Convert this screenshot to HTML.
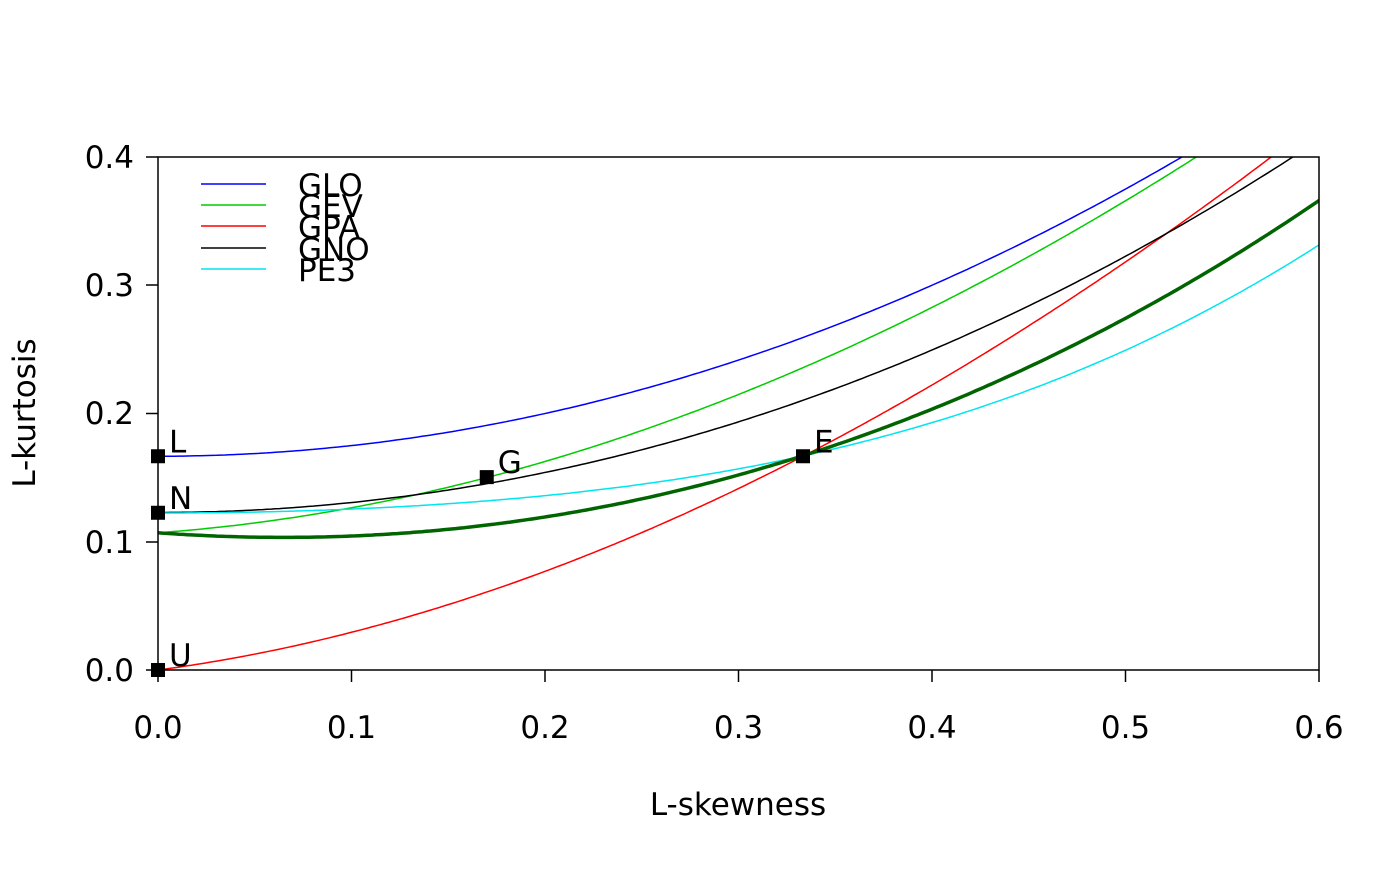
<!DOCTYPE html>
<html><head><meta charset="utf-8"><style>
html,body{margin:0;padding:0;background:#fff;}
svg text{font-family:"DejaVu Sans","Liberation Sans",sans-serif;font-size:31px;fill:#000;}
</style></head><body>
<svg id="s" width="1400" height="866" xmlns="http://www.w3.org/2000/svg">
<defs><clipPath id="c"><rect x="158" y="157" width="1161" height="513"/></clipPath></defs>
<g id="curves" clip-path="url(#c)"></g>
<rect x="158" y="157" width="1161" height="513" fill="none" stroke="#000" stroke-width="1.5"/>
<g stroke="#000" stroke-width="1.5">
<line x1="158" y1="670" x2="158" y2="682"/><line x1="351.5" y1="670" x2="351.5" y2="682"/>
<line x1="545" y1="670" x2="545" y2="682"/><line x1="738.5" y1="670" x2="738.5" y2="682"/>
<line x1="932" y1="670" x2="932" y2="682"/><line x1="1125.5" y1="670" x2="1125.5" y2="682"/>
<line x1="1319" y1="670" x2="1319" y2="682"/>
<line x1="146" y1="670" x2="158" y2="670"/><line x1="146" y1="542" x2="158" y2="542"/>
<line x1="146" y1="413.5" x2="158" y2="413.5"/><line x1="146" y1="285" x2="158" y2="285"/>
<line x1="146" y1="157" x2="158" y2="157"/>
</g>
<g text-anchor="middle">
<text x="158" y="738">0.0</text><text x="351.5" y="738">0.1</text><text x="545" y="738">0.2</text>
<text x="738.5" y="738">0.3</text><text x="932" y="738">0.4</text><text x="1125.5" y="738">0.5</text>
<text x="1319" y="738">0.6</text>
<text x="738" y="815">L-skewness</text>
<text transform="translate(35,413) rotate(-90)">L-kurtosis</text>
</g>
<g text-anchor="end">
<text x="134" y="681">0.0</text><text x="134" y="553">0.1</text><text x="134" y="424">0.2</text>
<text x="134" y="296">0.3</text><text x="134" y="168">0.4</text>
</g>
<g stroke-width="1.5">
<line x1="201" y1="184" x2="266" y2="184" stroke="#0000ff"/>
<line x1="201" y1="205" x2="266" y2="205" stroke="#00cd00"/>
<line x1="201" y1="226" x2="266" y2="226" stroke="#ff0000"/>
<line x1="201" y1="248" x2="266" y2="248" stroke="#000"/>
<line x1="201" y1="269" x2="266" y2="269" stroke="#00e5ee"/>
</g>
<text x="298" y="196">GLO</text><text x="298" y="217">GEV</text><text x="298" y="238">GPA</text>
<text x="298" y="260">GNO</text><text x="298" y="281">PE3</text>
<g id="pts"></g>
</svg>
<script>
var X=function(t){return 158+t*1935;},Y=function(v){return 670-v*1282.5;};
function gev(t){return 0.10701+0.11090*t+0.84838*t*t-0.06669*t*t*t+0.00567*Math.pow(t,4)-0.04208*Math.pow(t,5)+0.03763*Math.pow(t,6);}
var fs=[
[function(t){return (1+5*t*t)/6;},"#0000ff",1.5],
[gev,"#00cd00",1.5],
[function(t){return t*(1+5*t)/(5+t);},"#ff0000",1.5],
[function(t){var t2=t*t;return 0.12282+0.77518*t2+0.12279*t2*t2-0.13638*t2*t2*t2+0.11368*t2*t2*t2*t2;},"#000",1.5],
[function(t){var t2=t*t;return 0.12240+0.30115*t2+0.95812*t2*t2-0.57488*t2*t2*t2+0.19383*t2*t2*t2*t2;},"#00e5ee",1.5],
[function(t){return gev(-t);},"#006400",3.5]];
var g=document.getElementById("curves"),h="";
fs.forEach(function(f){var d="";for(var i=0;i<=300;i++){var t=i*0.65/300;d+=(i?"L":"M")+X(t).toFixed(1)+","+Y(f[0](t)).toFixed(1);}
h+='<path d="'+d+'" fill="none" stroke="'+f[1]+'" stroke-width="'+f[2]+'"/>';});
g.innerHTML=h;
var P=[[0,1/6,"L"],[0,0.1226,"N"],[0.1699,0.1504,"G"],[1/3,1/6,"E"],[0,0,"U"]],q="";
P.forEach(function(p){var x=X(p[0]),y=Y(p[1]);q+='<rect x="'+(x-7)+'" y="'+(y-7)+'" width="14" height="14" fill="#000"/><text x="'+(x+11)+'" y="'+(y-4)+'">'+p[2]+'</text>';});
document.getElementById("pts").innerHTML=q;
</script>
</body></html>
